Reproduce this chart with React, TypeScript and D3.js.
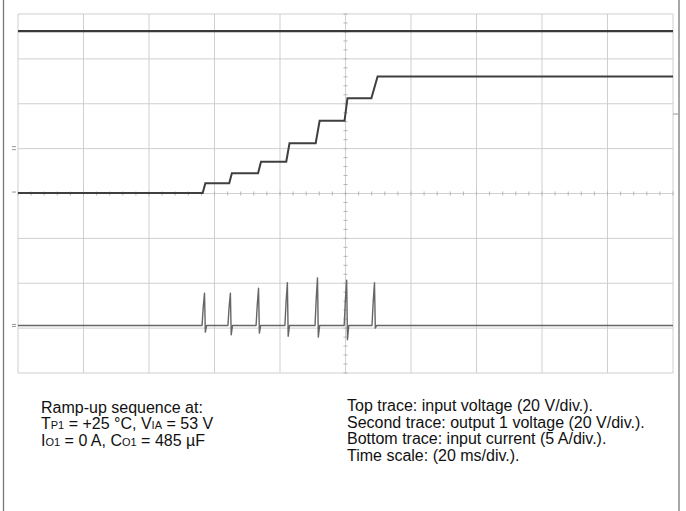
import React from "react";
import * as d3 from "d3";

// ---- data (time in ms, amplitude in screen divisions from bottom) ----
const gridTimes = [0, 20, 40, 60, 80, 100, 120, 140, 160, 180, 200];
const gridDivs = [0, 1, 2, 3, 4, 5, 6, 7, 8];

const inputVTimes = [0, 200];
const inputVVals = [7.62, 7.62];

const outV1Times = [0, 56.4, 57.2, 64.5, 65.3, 73.3, 74.2, 81.9, 82.9, 90.9, 92.1, 99.7, 100.6, 107.9, 109.8, 200];
const outV1Vals = [4.01, 4.01, 4.23, 4.23, 4.45, 4.45, 4.71, 4.71, 5.12, 5.12, 5.62, 5.62, 6.12, 6.12, 6.61, 6.61];

const currentBase = 1.06;
const spikeTimes = [57.1, 65.0, 73.6, 82.4, 91.6, 100.5, 109.0];
const spikePeaks = [1.78, 1.78, 1.89, 2.01, 2.12, 2.07, 2.01];
const spikeDips = [0.91, 0.85, 0.89, 0.82, 0.8, 0.74, 1.0];

const leftNotes = ["Ramp-up sequence at:"];
const rightNotes = [
  "Top trace: input voltage (20 V/div.).",
  "Second trace: output 1 voltage (20 V/div.).",
  "Bottom trace: input current (5 A/div.).",
  "Time scale: (20 ms/div.).",
];

const W = 686;
const H = 511;
const x = d3.scaleLinear().domain([0, 200]).range([18, 673]);
const y = d3.scaleLinear().domain([0, 8]).range([373, 14]);

const line = d3
  .line<[number, number]>()
  .x((d) => x(d[0]))
  .y((d) => y(d[1]));

function currentPoints(): [number, number][] {
  const pts: [number, number][] = [[0, currentBase]];
  spikeTimes.forEach((t, i) => {
    pts.push([t - 0.9, currentBase]);
    pts.push([t - 0.55, currentBase + (spikePeaks[i] - currentBase) * 0.55]);
    pts.push([t - 0.15, spikePeaks[i]]);
    pts.push([t + 0.1, spikeDips[i]]);
    pts.push([t + 0.5, currentBase]);
  });
  pts.push([200, currentBase]);
  return pts;
}

const minorTimes = d3.range(0, 201, 4);
const minorDivs = d3.range(0, 8.01, 0.2);

const FONT = "'Liberation Sans', Arial, Helvetica, sans-serif";

export default function App() {
  const zip = (a: number[], b: number[]) => a.map((v, i) => [v, b[i]] as [number, number]);
  const gridColor = "#cfcfcf";
  return (
    <svg
      width={W}
      height={H}
      viewBox={`0 0 ${W} ${H}`}
      style={{ position: "absolute", left: 0, top: 0, background: "#fff" }}
    >
      {/* page frame side lines */}
      <line x1={3.5} x2={3.5} y1={0} y2={H} stroke="#777" strokeWidth={1.3} />
      <line x1={679} x2={679} y1={0} y2={H} stroke="#777" strokeWidth={1.3} />

      {/* grid */}
      <g>
        {gridTimes.map((t) => (
          <line key={"v" + t} x1={x(t)} x2={x(t)} y1={y(8)} y2={y(0)} stroke={gridColor} strokeWidth={1} />
        ))}
        {gridDivs.map((d) => (
          <line key={"h" + d} x1={x(0)} x2={x(200)} y1={y(d)} y2={y(d)} stroke={gridColor} strokeWidth={1} />
        ))}
        {minorDivs.map((d) => (
          <line key={"mv" + d} x1={x(100) - 2} x2={x(100) + 2} y1={y(d)} y2={y(d)} stroke="#b5b5b5" strokeWidth={1} />
        ))}
        {minorTimes.map((t) => (
          <line key={"mh" + t} x1={x(t)} x2={x(t)} y1={y(4) - 2} y2={y(4) + 2} stroke="#b5b5b5" strokeWidth={1} />
        ))}
      </g>

      {/* channel markers */}
      <g stroke="#999" strokeWidth={1} fill="none">
        <path d={`M12,${y(5.0) - 2}h4M12,${y(5.0) + 1}h4`} />
        <path d={`M12,${y(4.01) - 1}h4`} />
        <path d={`M12,${y(currentBase) - 1}h4M12,${y(currentBase) + 1}h4`} />
        <path d={`M673,${y(5.77)}h5`} />
      </g>

      {/* traces */}
      <path d={line(zip(inputVTimes, inputVVals)) || ""} fill="none" stroke="#3a3a3a" strokeWidth={2.2} />
      <path d={line(zip(outV1Times, outV1Vals)) || ""} fill="none" stroke="#3f3f3f" strokeWidth={2} />
      <path d={line(currentPoints()) || ""} fill="none" stroke="#666" strokeWidth={1.4} strokeLinejoin="round" />

      {/* notes */}
      <g fontFamily={FONT} fontSize={16} fill="#111">
        <text x={41} y={412.5}>{leftNotes[0]}</text>
        <text x={41} y={429}>
          T<tspan fontSize={11}>P1</tspan> = +25 °C, V<tspan fontSize={11}>IA</tspan> = 53 V
        </text>
        <text x={41} y={445.5}>
          I<tspan fontSize={11}>O1</tspan> = 0 A, C<tspan fontSize={11}>O1</tspan> = 485 µF
        </text>
        {rightNotes.map((s, i) => (
          <text key={i} x={347} y={411 + i * 16.5}>
            {s}
          </text>
        ))}
      </g>
    </svg>
  );
}
